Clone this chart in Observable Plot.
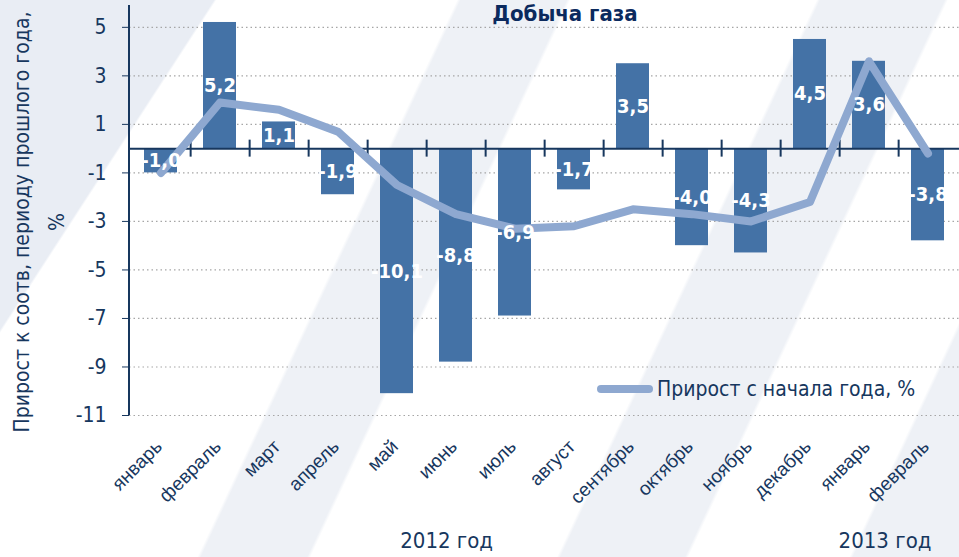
<!DOCTYPE html>
<html><head><meta charset="utf-8">
<script src="https://cdn.jsdelivr.net/npm/d3@7"></script>
<script src="https://cdn.jsdelivr.net/npm/@observablehq/plot@0.6"></script>
<style>
html,body{margin:0;padding:0;background:#fff;}
#chart{position:relative;width:959px;height:557px;overflow:hidden;
  background:
    linear-gradient(123deg, #E9EDF4 0 16.2%, rgba(255,255,255,0) 16.4%),
    linear-gradient(115deg, rgba(255,255,255,0) 37.5%, #EEF1F6 37.8%, #EEF1F6 46.5%, rgba(255,255,255,0) 46.8%,
      rgba(255,255,255,0) 67%, #EEF1F6 67.3%, #EEF1F6 77.5%, rgba(255,255,255,0) 77.8%,
      rgba(255,255,255,0) 91%, #EEF1F6 91.3%);}
svg{font-family:"DejaVu Sans Condensed","Liberation Sans Narrow",sans-serif;}
</style></head>
<body><div id="chart"></div>
<script>
const months = ["январь","февраль","март","апрель","май","июнь","июль","август","сентябрь","октябрь","ноябрь","декабрь","январь","февраль"];
const monthly = [-1.0, 5.2, 1.1, -1.9, -10.1, -8.8, -6.9, -1.7, 3.5, -4.0, -4.3, 4.5, 3.6, -3.8];
const ytd = [-1.0, 1.9, 1.6, 0.7, -1.5, -2.7, -3.3, -3.2, -2.5, -2.7, -3.0, -2.2, 3.6, -0.2];
const yTicks = [-11, -9, -7, -5, -3, -1, 1, 3, 5];
const title = "Добыча газа";
const yLabel1 = "Прирост к соотв, периоду прошлого года,";
const yLabel2 = "%";
const legendLabel = "Прирост с начала года, %";
const years = [{label: "2012 год", at: 4.85}, {label: "2013 год", at: 12.28}];

const W = 959, H = 557, mL = 129, mR = 0, mT = 5, mB = 142;
const navy = "#17375E";
const barColor = "#4472A6";
const lineColor = "#8EA8D0";
const narrow = '"DejaVu Sans Condensed","Liberation Sans Narrow",sans-serif';
const data = months.map((m, i) => ({i, m, v: monthly[i], t: ytd[i]}));
const step = (W - mL - mR) / months.length;
const fmt = v => v.toFixed(1).replace(".", ",");

const chart = Plot.plot({
  width: W, height: H,
  marginLeft: mL, marginRight: mR, marginTop: mT, marginBottom: mB,
  style: {fontFamily: narrow, background: "transparent"},
  x: {type: "band", domain: data.map(d => d.i), paddingInner: 0.44, paddingOuter: 0.22, label: null},
  y: {domain: [-11, 5.9], label: null},
  marks: [
    Plot.ruleY(yTicks, {stroke: "#A6A6A6", strokeDasharray: "1.5,3", strokeWidth: 1.2}),
    Plot.barY(data, {x: "i", y: "v", fill: barColor, ariaLabel: "bars"}),
    Plot.ruleY([0], {stroke: navy, strokeWidth: 2}),
    Plot.ruleX(data.slice(0, -1), {x: "i", y1: 0.35, y2: -0.35, dx: step / 2, stroke: navy, strokeWidth: 2}),
    Plot.line(data, {x: "i", y: "t", stroke: lineColor, strokeWidth: 8, strokeLinejoin: "round", strokeLinecap: "round"}),
    Plot.text(data, {x: "i", y: d => d.v / 2, text: d => fmt(d.v), fill: "white", fontSize: 20, fontWeight: "bold"}),
    Plot.axisY({ticks: yTicks, tickSize: 7, tickPadding: 16, fontSize: 21, color: navy, tickFormat: d => d, label: null}),
    Plot.axisX({tickFormat: i => months[i], tickRotate: -45, tickSize: 0, tickPadding: 28, fontSize: 19, color: navy, dx: -2, label: null, fontFamily: '"Liberation Sans",Arial,sans-serif'})
  ]
});

const svg = d3.select(chart);
svg.selectAll('g[aria-label="bars"] rect').style("filter", "drop-shadow(3px 3px 2px rgba(0,0,0,0.35))");

const yS = chart.scale("y");
const xS = chart.scale("x");
// left axis line
svg.append("line").attr("x1", mL).attr("x2", mL).attr("y1", yS.apply(5.9)).attr("y2", yS.apply(-11))
  .attr("stroke", navy).attr("stroke-width", 2);

// title
svg.append("text").attr("x", 565).attr("y", 21).attr("text-anchor", "middle")
  .attr("font-size", 22).attr("font-weight", "bold").attr("fill", "#0B2A5E").text(title);

// y label
const yl = svg.append("g").attr("transform", `translate(22,${(yS.apply(5.9) + yS.apply(-11)) / 2 + 12}) rotate(-90)`);
yl.append("text").attr("text-anchor", "middle").attr("dy", "0.35em").attr("font-size", 21).attr("fill", navy).text(yLabel1);
yl.append("text").attr("text-anchor", "middle").attr("y", 35).attr("dy", "0.35em").attr("font-size", 21).attr("fill", navy).text(yLabel2);

// year labels
for (const yr of years) {
  const cx = xS.apply(Math.floor(yr.at)) + xS.bandwidth / 2 + (yr.at % 1) * xS.step;
  svg.append("text").attr("x", cx).attr("y", 540).attr("dy", "0.35em").attr("text-anchor", "middle")
    .attr("font-size", 22).attr("fill", navy).text(yr.label);
}

// legend
const lg = svg.append("g").attr("transform", "translate(601,389)");
lg.append("line").attr("x1", 0).attr("x2", 48).attr("stroke", lineColor).attr("stroke-width", 8).attr("stroke-linecap", "round");
lg.append("text").attr("x", 56).attr("dy", "0.35em").attr("text-anchor", "start").attr("font-size", 21).attr("fill", navy).text(legendLabel);

document.getElementById("chart").appendChild(chart);
</script>
</body></html>
